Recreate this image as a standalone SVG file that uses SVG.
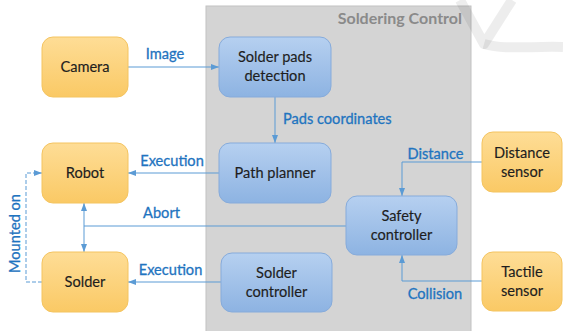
<svg xmlns="http://www.w3.org/2000/svg" width="563" height="331" viewBox="0 0 563 331">
  <defs>
    <linearGradient id="gOrange" x1="0" y1="0" x2="0" y2="1">
      <stop offset="0" stop-color="#fedd96"/>
      <stop offset="1" stop-color="#fac965"/>
    </linearGradient>
    <linearGradient id="gBlue" x1="0" y1="0" x2="0" y2="1">
      <stop offset="0" stop-color="#b6d0f0"/>
      <stop offset="1" stop-color="#8db3e2"/>
    </linearGradient>
    <marker id="arr" viewBox="0 0 8 8" refX="8" refY="4" markerWidth="8" markerHeight="8" markerUnits="userSpaceOnUse" orient="auto">
      <path d="M0,1 L8,4 L0,7 Z" fill="#5b9bd5"/>
    </marker>
    <style>
      .ext rect { fill: url(#gOrange); stroke: #f4c460; stroke-width: 1; }
      .int rect { fill: url(#gBlue); stroke: #86abdb; stroke-width: 1; }
      .node text { font-family: Lato, "Liberation Sans", sans-serif; font-size: 14.6px; fill: #1e1e1e; text-anchor: middle; stroke: #1e1e1e; stroke-width: 0.15; }
      .lbl { font-family: Lato, "Liberation Sans", sans-serif; font-size: 14.6px; fill: #1f74c0; stroke: #1f74c0; stroke-width: 0.3; }
      .ln { fill: none; stroke: #5b9bd5; stroke-width: 1; }
      .dash { stroke-dasharray: 4 2; }
    </style>
  </defs>

  <rect x="0" y="0" width="563" height="331" fill="#ffffff"/>

  <!-- soldering control area -->
  <g id="soldering-control">
    <rect x="206" y="6" width="265" height="330" fill="#d4d4d4" stroke="#c2c2c2" stroke-width="1"/>
    <text x="462" y="24" text-anchor="end" font-family="Lato, 'Liberation Sans', sans-serif" font-size="16px" font-weight="bold" fill="#8a8a8a">Soldering Control</text>
  </g>

  <!-- faint background mark -->
  <g id="mark" fill="none" stroke="#000" stroke-opacity="0.07" stroke-width="10" stroke-linejoin="round">
    <path d="M460,0 L484,44 L512,0"/>
    <path d="M484,44 C505,50 530,46 563,47"/>
  </g>

  <!-- connectors -->
  <g id="connectors">
    <path class="ln" d="M128,67 L219,67" marker-end="url(#arr)"/>
    <path class="ln" d="M275,97 L275,143" marker-end="url(#arr)"/>
    <path class="ln" d="M219,173 L128,173" marker-end="url(#arr)"/>
    <path class="ln" d="M221,282 L128,282" marker-end="url(#arr)"/>
    <path class="ln" d="M346,226 L84,226"/>
    <path class="ln" d="M84,226 L84,203" marker-end="url(#arr)"/>
    <path class="ln" d="M84,226 L84,252" marker-end="url(#arr)"/>
    <path class="ln" d="M482,162 L402,162 L402,196" marker-end="url(#arr)"/>
    <path class="ln" d="M482,281 L402,281 L402,255" marker-end="url(#arr)"/>
    <path class="ln dash" d="M42,282 L26,282 L26,173 L42,173" marker-end="url(#arr)"/>

    <text class="lbl" x="165" y="59" text-anchor="middle">Image</text>
    <text class="lbl" x="283" y="124">Pads coordinates</text>
    <text class="lbl" x="172" y="166" text-anchor="middle">Execution</text>
    <text class="lbl" x="161.5" y="218" text-anchor="middle">Abort</text>
    <text class="lbl" x="170.5" y="275" text-anchor="middle">Execution</text>
    <text class="lbl" x="435.5" y="159" text-anchor="middle">Distance</text>
    <text class="lbl" x="435" y="299" text-anchor="middle">Collision</text>
    <text class="lbl" x="20" y="233.5" text-anchor="middle" font-size="15.5px" transform="rotate(-90 20 233.5)">Mounted on</text>
  </g>

  <!-- external components -->
  <g id="camera" class="node ext">
    <rect x="42" y="37" width="86" height="60" rx="11"/>
    <text x="85" y="72">Camera</text>
  </g>
  <g id="robot" class="node ext">
    <rect x="42" y="143" width="86" height="60" rx="11"/>
    <text x="85" y="178">Robot</text>
  </g>
  <g id="solder" class="node ext">
    <rect x="42" y="252" width="86" height="60" rx="11"/>
    <text x="85" y="287">Solder</text>
  </g>
  <g id="distance-sensor" class="node ext">
    <rect x="482" y="132" width="80" height="60" rx="11"/>
    <text x="522" y="158">Distance</text>
    <text x="522" y="177">sensor</text>
  </g>
  <g id="tactile-sensor" class="node ext">
    <rect x="482" y="252" width="80" height="59" rx="11"/>
    <text x="522" y="277">Tactile</text>
    <text x="522" y="296">sensor</text>
  </g>

  <!-- soldering control components -->
  <g id="solder-pads-detection" class="node int">
    <rect x="219" y="37" width="112" height="60" rx="11"/>
    <text x="275" y="62">Solder pads</text>
    <text x="275" y="81">detection</text>
  </g>
  <g id="path-planner" class="node int">
    <rect x="219" y="143" width="112" height="60" rx="11"/>
    <text x="275" y="178">Path planner</text>
  </g>
  <g id="solder-controller" class="node int">
    <rect x="221" y="253" width="111" height="59" rx="11"/>
    <text x="276.5" y="278">Solder</text>
    <text x="276.5" y="297">controller</text>
  </g>
  <g id="safety-controller" class="node int">
    <rect x="346" y="196" width="111" height="59" rx="11"/>
    <text x="401.5" y="221">Safety</text>
    <text x="401.5" y="240">controller</text>
  </g>
</svg>
